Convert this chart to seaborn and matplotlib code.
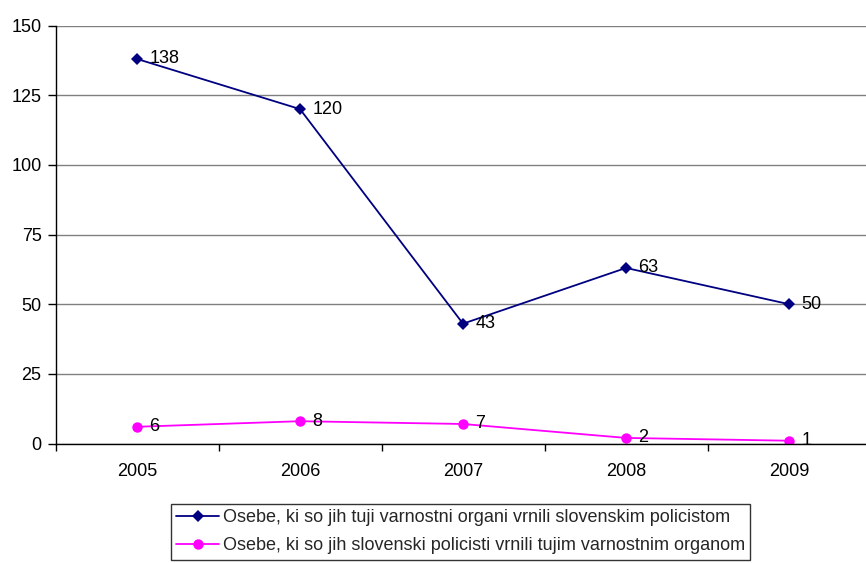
import matplotlib
matplotlib.use("Agg")
import matplotlib.pyplot as plt
import seaborn as sns
import pandas as pd
from matplotlib.ticker import FixedLocator
from matplotlib.lines import Line2D

years = ["2005", "2006", "2007", "2008", "2009"]
series1_name = "Osebe, ki so jih tuji varnostni organi vrnili slovenskim policistom"
series2_name = "Osebe, ki so jih slovenski policisti vrnili tujim varnostnim organom"
series1 = [138, 120, 43, 63, 50]
series2 = [6, 8, 7, 2, 1]

sns.set_theme(style="white")
plt.rcParams["font.family"] = ["Liberation Sans", "DejaVu Sans"]

df = pd.DataFrame({
    "year": years * 2,
    "x": list(range(len(years))) * 2,
    "value": series1 + series2,
    "series": [series1_name] * len(years) + [series2_name] * len(years),
})

fig = plt.figure(figsize=(8.66, 5.63), dpi=100)
ax = fig.add_axes([55.5 / 866, 1 - 443.5 / 563, 815 / 866, 418 / 563])

colors = {series1_name: "#000080", series2_name: "#FF00FF"}
markers = {series1_name: "D", series2_name: "o"}
msizes = {series1_name: 6.5, series2_name: 7.5}
FS = 13

for n, vals in [(series1_name, series1), (series2_name, series2)]:
    sub = df[df["series"] == n]
    sns.lineplot(data=sub, x="x", y="value", color=colors[n], marker=markers[n],
                 ax=ax, linewidth=1.3, markersize=msizes[n], markeredgewidth=0,
                 legend=False)

for vals in [series1, series2]:
    for i, v in enumerate(vals):
        ax.annotate(str(v), (i, v), xytext=(9, 0), textcoords="offset points",
                    va="center", ha="left", fontsize=FS, color="black")

ax.set_xlim(-0.5, len(years) - 0.5)
ax.set_ylim(0, 150)
ax.set_yticks([0, 25, 50, 75, 100, 125, 150])
ax.yaxis.grid(True, color="#808080", linewidth=1)
ax.set_axisbelow(True)
ax.set_xticks(range(len(years)))
ax.set_xticklabels(years)
ax.xaxis.set_minor_locator(FixedLocator([i + 0.5 for i in range(-1, len(years))]))
ax.tick_params(axis="x", which="major", length=0, labelsize=FS, pad=14, colors="black")
ax.tick_params(axis="x", which="minor", length=5, direction="out", width=1, color="black", bottom=True)
ax.tick_params(axis="y", length=6, direction="out", width=1, labelsize=FS, left=True, colors="black", pad=4)
ax.set_xlabel("")
ax.set_ylabel("")
for side in ["top", "right"]:
    ax.spines[side].set_visible(False)
for side in ["left", "bottom"]:
    ax.spines[side].set_color("black")
    ax.spines[side].set_linewidth(1)

handles = [Line2D([], [], color=colors[n], marker=markers[n], markersize=msizes[n],
                  markeredgewidth=0, linewidth=1.3) for n in [series1_name, series2_name]]
leg = fig.legend(handles, [series1_name, series2_name], loc="upper left",
                 bbox_to_anchor=(171 / 866, 1 - 504 / 563), frameon=True,
                 fontsize=FS, handlelength=2.35, handletextpad=0.22,
                 borderpad=0.3, labelspacing=0.6, borderaxespad=0, fancybox=False)
leg.get_frame().set_edgecolor("black")
leg.get_frame().set_linewidth(1)

fig.savefig("out.png", dpi=100)
